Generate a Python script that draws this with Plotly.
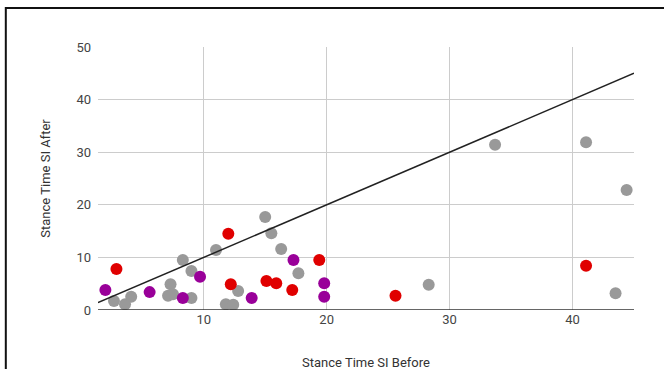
import plotly.graph_objects as go

gray_x = [2.7, 3.6, 4.1, 7.3, 7.1, 7.5, 8.3, 9.0, 9.0, 11.0, 11.8, 12.4, 12.8, 15.0, 15.5, 16.3, 17.7, 28.3, 33.7, 41.1, 44.4, 43.5]
gray_y = [1.7, 1.1, 2.5, 4.9, 2.7, 3.0, 9.5, 7.4, 2.3, 11.4, 1.1, 1.0, 3.6, 17.7, 14.6, 11.6, 7.0, 4.8, 31.4, 31.9, 22.8, 3.2]

red_x = [2.9, 12.0, 12.2, 15.1, 15.9, 17.2, 19.4, 25.6, 41.1]
red_y = [7.8, 14.5, 4.9, 5.5, 5.1, 3.8, 9.5, 2.7, 8.4]

purple_x = [2.0, 5.6, 8.3, 9.7, 13.9, 17.3, 19.8, 19.8]
purple_y = [3.8, 3.4, 2.3, 6.3, 2.3, 9.5, 5.1, 2.5]

ref_x = [1.4, 45]
ref_y = [1.4, 45]

x_ticks = [10, 20, 30, 40]
y_ticks = [0, 10, 20, 30, 40, 50]

fig = go.Figure()
fig.add_trace(go.Scatter(x=gray_x, y=gray_y, mode="markers",
                         marker=dict(color="#999999", size=12), showlegend=False))
fig.add_trace(go.Scatter(x=red_x, y=red_y, mode="markers",
                         marker=dict(color="#e00000", size=12), showlegend=False))
fig.add_trace(go.Scatter(x=purple_x, y=purple_y, mode="markers",
                         marker=dict(color="#990099", size=12), showlegend=False))
fig.add_trace(go.Scatter(x=ref_x, y=ref_y, mode="lines",
                         line=dict(color="#222222", width=1.5), showlegend=False))

fig.update_layout(
    width=664, height=369,
    margin=dict(l=98, r=30, t=47, b=59),
    paper_bgcolor="white", plot_bgcolor="white",
    font=dict(family="Roboto", size=13, color="#444444"),
    xaxis=dict(range=[1.4, 45], tickvals=x_ticks, showgrid=True, gridcolor="#cccccc",
               gridwidth=1, zeroline=False, showline=False, ticks="", automargin=False),
    yaxis=dict(range=[0, 50], tickvals=y_ticks, showgrid=True, gridcolor="#cccccc",
               gridwidth=1, zeroline=False, showline=False, ticks="", ticklabelstandoff=6,
               automargin=False,
               title=dict(text="Stance Time SI After", standoff=22,
                          font=dict(size=13, color="#333333"))),
    annotations=[
        dict(text="Stance Time SI Before", xref="paper", yref="paper", x=0.5, y=-0.2,
             xanchor="center", yanchor="middle", showarrow=False,
             font=dict(size=13, color="#333333")),
    ],
    shapes=[
        dict(type="line", xref="paper", yref="y", x0=0, x1=1, y0=0, y1=0,
             line=dict(color="#333333", width=1.5)),
        dict(type="rect", xref="paper", yref="paper", x0=-0.172, x1=1.3, y0=-0.5, y1=1.148,
             line=dict(color="#111111", width=2)),
    ],
)

fig.write_html("out.html", config={"displayModeBar": False},
               post_script="document.body.style.margin='0';document.body.style.overflow='hidden';")
